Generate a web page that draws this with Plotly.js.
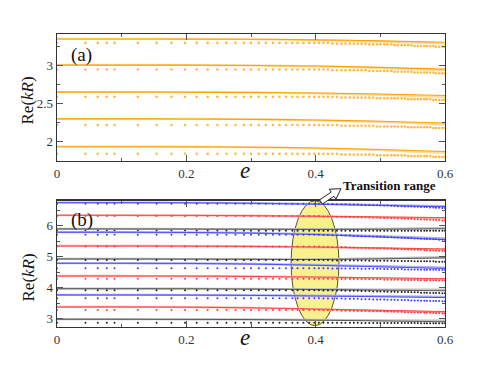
<!DOCTYPE html>
<html><head><meta charset="utf-8">
<script src="https://cdn.plot.ly/plotly-3.0.1.min.js"></script>
<style>html,body{margin:0;padding:0;background:#fff}#chart{width:491px;height:384px}</style>
</head><body><div id="chart"></div>
<script>
// ---------- data ----------
const lineE = [0, 0.1, 0.2, 0.3, 0.4, 0.5, 0.6];
const dotE = [0,0.044,0.063,0.077,0.089,0.125,0.154,0.177,0.198,0.216,0.233,0.248,0.262,0.276,0.289,
  0.300,0.312,0.323,0.334,0.344,0.354,0.364,0.372,0.381,0.390,0.398,0.405,
  0.412,0.419,0.426,0.433,0.440,0.446,0.453,0.459,0.465,0.471,0.477,0.483,0.489,0.495,0.500,
  0.506,0.511,0.517,0.522,0.527,0.533,0.538,0.543,0.548,0.553,0.558,0.563,0.568,0.572,0.577,
  0.582,0.586,0.591,0.596,0.600];

// panel (a): orange lines (dark / light) and dotted rows
const aLine1 = [3.351,3.351,3.350,3.347,3.340,3.327,3.308];
const aLine1b = [3.353,3.353,3.352,3.348,3.337,3.316,3.290];
const aLine2 = [3.008,3.008,3.007,3.003,2.995,2.978,2.955];
const aLine2b = [3.010,3.010,3.009,3.004,2.992,2.969,2.938];
const aLine3 = [2.652,2.652,2.651,2.647,2.640,2.627,2.607];
const aLine3b = [2.654,2.654,2.653,2.648,2.636,2.616,2.590];
const aLine4 = [2.300,2.300,2.299,2.294,2.285,2.268,2.245];
const aLine4b = [2.302,2.302,2.301,2.295,2.282,2.259,2.228];
const aLine5 = [1.934,1.934,1.932,1.927,1.917,1.897,1.870];
const aLine5b = [1.936,1.936,1.934,1.928,1.913,1.888,1.853];

const aDots1 = [3.3,3.3,3.3,3.3,3.3,3.3,3.3,3.3,3.3, 3.3,3.3,3.3,3.3,3.3,3.3,3.3,3.3,3.3, 3.3,3.3,3.3,3.3,3.3,3.3,3.3,3.3,3.3,
  3.3,3.3, 3.29,3.29,3.29,3.29,3.29,3.29,3.29,3.29,3.29, 3.28,3.28,3.28,3.28,3.28,3.28,3.28,
  3.27,3.27,3.27,3.27,3.27,3.27, 3.26,3.26,3.26,3.26,3.26,3.26,3.26, 3.25,3.25,3.25,3.25];
const aDots2 = [2.95,2.95,2.95,2.95,2.95,2.95,2.95,2.95,2.95, 2.95,2.95,2.95,2.95,2.95,2.95,2.95,2.95,2.95, 2.95,2.95,2.95,2.95,2.95,2.95,2.95,2.95,2.95,
  2.95,2.95, 2.94,2.94,2.94,2.94,2.94,2.94,2.94,2.94,2.94, 2.93,2.93,2.93,2.93,2.93,2.93,2.93,
  2.92,2.92,2.92,2.92,2.92,2.92, 2.91,2.91,2.91,2.91,2.91,2.91,2.91, 2.90,2.90,2.90,2.90];
const aDots3 = [2.59,2.59,2.59,2.59,2.59,2.59,2.59,2.59,2.59, 2.59,2.59,2.59,2.59,2.59,2.59,2.59,2.59,2.59, 2.59,2.59,2.59,2.59,2.59,2.59,2.59,2.59,2.59,
  2.59,2.59,2.59,2.59, 2.58,2.58,2.58,2.58,2.58,2.58,2.58,2.58,2.58, 2.57,2.57,2.57,2.57,2.57,2.57,2.57,2.57,2.57,
  2.56,2.56,2.56,2.56,2.56,2.56,2.56,2.56, 2.55,2.55,2.55,2.55,2.55];
const aDots4 = [2.22,2.22,2.22,2.22,2.22,2.22,2.22,2.22,2.22, 2.22,2.22,2.22,2.22,2.22,2.22,2.22,2.22,2.22, 2.22,2.22,2.22,2.22,2.22,2.22,2.22,2.22,2.22,
  2.22,2.22,2.22,2.22, 2.21,2.21,2.21,2.21,2.21,2.21,2.21,2.21,2.21, 2.20,2.20,2.20,2.20,2.20,2.20,2.20,2.20,2.20,
  2.19,2.19,2.19,2.19,2.19,2.19,2.19,2.19, 2.18,2.18,2.18,2.18,2.18];
const aDots5 = [1.84,1.84,1.84,1.84,1.84,1.84,1.84,1.84,1.84, 1.84,1.84,1.84,1.84,1.84,1.84,1.84,1.84,1.84, 1.84,1.84,1.84,1.84,1.84,1.84,1.84,1.84,1.84,
  1.84,1.84,1.84,1.84, 1.83,1.83,1.83,1.83,1.83,1.83,1.83,1.83,1.83, 1.82,1.82,1.82,1.82,1.82,1.82,1.82,1.82,1.82,
  1.81,1.81,1.81,1.81,1.81,1.81,1.81,1.81, 1.80,1.80,1.80,1.80,1.80];

// panel (b): blue / red / black families
const bBlue1 = [6.742,6.742,6.737,6.722,6.692,6.652,6.610];
const bBlue1b = [6.744,6.744,6.740,6.726,6.700,6.667,6.632];
const bRed1 = [6.335,6.335,6.331,6.322,6.303,6.282,6.260];
const bRed1b = [6.337,6.337,6.333,6.322,6.298,6.270,6.238];
const bBlack1 = [5.894,5.894,5.891,5.886,5.880,5.886,5.900];
const bBlack1b = [5.896,5.896,5.893,5.889,5.887,5.900,5.925];
const bBlue2 = [5.787,5.787,5.780,5.760,5.712,5.632,5.550];
const bBlue2b = [5.789,5.789,5.783,5.766,5.725,5.660,5.590];
const bRed2 = [5.345,5.345,5.341,5.331,5.310,5.281,5.250];
const bRed2b = [5.347,5.347,5.343,5.331,5.304,5.267,5.225];
const bBlack2 = [4.926,4.926,4.922,4.916,4.910,4.930,4.960];
const bBlack2b = [4.928,4.928,4.925,4.920,4.918,4.945,4.985];
const bBlue3 = [4.787,4.787,4.781,4.762,4.722,4.672,4.620];
const bBlue3b = [4.789,4.789,4.784,4.768,4.735,4.693,4.650];
const bRed3 = [4.377,4.377,4.373,4.362,4.343,4.318,4.290];
const bRed3b = [4.379,4.379,4.375,4.362,4.337,4.304,4.266];
const bBlack3 = [3.968,3.968,3.965,3.956,3.940,3.920,3.900];
const bBlack3b = [3.970,3.970,3.968,3.962,3.952,3.942,3.935];
const bBlue4 = [3.765,3.765,3.761,3.751,3.732,3.708,3.680];
const bBlue4b = [3.767,3.767,3.764,3.756,3.742,3.725,3.705];
const bRed4 = [3.377,3.377,3.370,3.350,3.312,3.271,3.230];
const bRed4b = [3.379,3.379,3.372,3.350,3.305,3.255,3.205];
const bBlack4 = [2.981,2.981,2.978,2.970,2.952,2.928,2.900];
const bBlack4b = [2.983,2.983,2.981,2.976,2.965,2.950,2.935];

const bBlue1Dots = [6.71,6.71,6.71,6.71,6.71,6.71,6.71,6.71,6.71, 6.71,6.71,6.71,6.71,6.71,6.71,6.71,6.71,6.71, 6.71,6.71,6.71,6.71,6.71,6.71,6.71,6.71,6.71,
  6.70,6.70,6.70,6.69,6.69,6.69,6.68,6.68,6.68,6.67,6.67,6.67,6.66,6.66,6.65,6.65,6.65,6.64,6.64,6.63,6.63,6.62,6.62,6.62,6.61,6.61,6.60,6.60,6.60,6.59,6.59,6.58,6.58,6.57,6.57];
const bRed1Dots = [6.31,6.31,6.31,6.31,6.31,6.31,6.31,6.31,6.31, 6.31,6.31,6.31,6.31,6.31,6.31,6.31,6.31,6.31, 6.31,6.31,6.31,6.31,6.31,6.31,6.31,6.31,6.31,
  6.30,6.30,6.30,6.29,6.29,6.29,6.28,6.28,6.28,6.27,6.27,6.27,6.26,6.26,6.25,6.25,6.25,6.24,6.24,6.23,6.23,6.22,6.22,6.22,6.21,6.21,6.20,6.20,6.20,6.19,6.19,6.18,6.18,6.17,6.17];
const bBlack1Dots = [5.84,5.84,5.84,5.84,5.84,5.84,5.84,5.84,5.84, 5.84,5.84,5.84,5.84,5.84,5.84,5.84,5.84,5.84, 5.84,5.84,5.84,5.84,5.84,5.84,5.84,5.84,5.84,
  5.84,5.84,5.84,5.84,5.84,5.84,5.84,5.84,5.84,5.84,5.84,5.84,5.84,5.84,5.84,5.84,5.84,5.84,5.84,5.84,5.84,5.84,5.84,5.84,5.84,5.84,5.84,5.84,5.84,5.84,5.84,5.84,5.84,5.84,5.84];
const bBlue2Dots = [5.71,5.71,5.71,5.71,5.71,5.71,5.71,5.71,5.71, 5.71,5.71,5.71,5.71,5.71,5.71,5.71,5.71,5.71, 5.71,5.71,5.71,5.71,5.71,5.71,5.71,5.71,5.71,
  5.70,5.70,5.69,5.69,5.69,5.68,5.68,5.67,5.67,5.66,5.66,5.66,5.65,5.65,5.64,5.64,5.63,5.63,5.62,5.62,5.61,5.61,5.60,5.60,5.59,5.59,5.58,5.58,5.57,5.57,5.56,5.56,5.55,5.55,5.54];
const bRed2Dots = [5.33,5.33,5.33,5.33,5.33,5.33,5.33,5.33,5.33, 5.33,5.33,5.33,5.33,5.33,5.33,5.33,5.33,5.33, 5.33,5.33,5.33,5.33,5.33,5.33,5.33,5.33,5.33,
  5.32,5.32,5.31,5.31,5.31,5.31,5.30,5.30,5.29,5.29,5.29,5.28,5.28,5.27,5.27,5.27,5.26,5.26,5.25,5.25,5.24,5.24,5.23,5.23,5.22,5.22,5.22,5.21,5.21,5.20,5.20,5.19,5.19,5.18,5.18];
const bBlack2Dots = [4.89,4.89,4.89,4.89,4.89,4.89,4.89,4.89,4.89, 4.89,4.89,4.89,4.89,4.89,4.89,4.89,4.89,4.89, 4.89,4.89,4.89,4.89,4.89,4.89,4.89,4.89,4.89,
  4.89,4.89, 4.88,4.88,4.88,4.88,4.88,4.88,4.88,4.88,4.88, 4.87,4.87,4.87,4.87,4.87,4.87,4.87,
  4.86,4.86,4.86,4.86,4.86,4.86, 4.85,4.85,4.85,4.85,4.85,4.85,4.85, 4.84,4.84,4.84,4.84];
const bBlue3Dots = [4.63,4.63,4.63,4.63,4.63,4.63,4.63,4.63,4.63, 4.63,4.63,4.63,4.63,4.63,4.63,4.63,4.63,4.63, 4.63,4.63,4.63,4.63,4.63,4.63,4.63,4.63,4.63,
  4.63,4.63, 4.62,4.62,4.62,4.62,4.62,4.62,4.62, 4.61,4.61,4.61,4.61,4.61,4.61, 4.60,4.60,4.60,4.60,4.60,4.60,
  4.59,4.59,4.59,4.59,4.59, 4.58,4.58,4.58,4.58,4.58,4.58, 4.57,4.57,4.57];
const bRed3Dots = [4.29,4.29,4.29,4.29,4.29,4.29,4.29,4.29,4.29, 4.29,4.29,4.29,4.29,4.29,4.29,4.29,4.29,4.29, 4.29,4.29,4.29,4.29,4.29,4.29,4.29,4.29,4.29,
  4.29,4.29, 4.28,4.28,4.28,4.28,4.28,4.28,4.28, 4.27,4.27,4.27,4.27,4.27,4.27, 4.26,4.26,4.26,4.26,4.26,4.26,
  4.25,4.25,4.25,4.25,4.25, 4.24,4.24,4.24,4.24,4.24,4.24, 4.23,4.23,4.23];
const bBlack3Dots = [3.92,3.92,3.92,3.92,3.92,3.92,3.92,3.92,3.92, 3.92,3.92,3.92,3.92,3.92,3.92,3.92,3.92,3.92, 3.92,3.92,3.92,3.92,3.92,3.92,3.92,3.92,3.92,
  3.91,3.91,3.91,3.91,3.91, 3.90,3.90,3.90,3.90, 3.89,3.89,3.89, 3.88,3.88,3.88,3.88, 3.87,3.87,3.87,
  3.86,3.86,3.86,3.86, 3.85,3.85,3.85, 3.84,3.84,3.84, 3.83,3.83,3.83,3.83, 3.82,3.82];
const bBlue4Dots = [3.66,3.66,3.66,3.66,3.66,3.66,3.66,3.66,3.66, 3.66,3.66,3.66,3.66,3.66,3.66,3.66,3.66,3.66, 3.66,3.66,3.66,3.66,3.66,3.66,3.66,3.66,3.66,
  3.65,3.65,3.65,3.65,3.65, 3.64,3.64,3.64,3.64, 3.63,3.63,3.63, 3.62,3.62,3.62,3.62, 3.61,3.61,3.61,
  3.60,3.60,3.60,3.60, 3.59,3.59,3.59, 3.58,3.58,3.58, 3.57,3.57,3.57,3.57, 3.56,3.56];
const bRed4Dots = [3.28,3.28,3.28,3.28,3.28,3.28,3.28,3.28,3.28, 3.28,3.28,3.28,3.28,3.28,3.28,3.28,3.28,3.28, 3.28,3.28,3.28,3.28,3.28,3.28,3.28,3.28,3.28,
  3.27,3.27,3.27,3.27, 3.26,3.26,3.26,3.26, 3.25,3.25,3.25, 3.24,3.24,3.24,3.24, 3.23,3.23,3.23,
  3.22,3.22,3.22, 3.21,3.21,3.21, 3.20,3.20,3.20, 3.19,3.19,3.19, 3.18,3.18,3.18, 3.17,3.17];
const bBlack4Dots = [2.87,2.87,2.87,2.87,2.87,2.87,2.87,2.87,2.87, 2.87,2.87,2.87,2.87,2.87,2.87,2.87,2.87,2.87, 2.87,2.87,2.87,2.87,2.87,2.87,2.87,2.87,2.87,
  2.87,2.87,2.87,2.87,2.87,2.87,2.87,2.87,2.87,
  2.86,2.86,2.86,2.86,2.86,2.86,2.86,2.86,2.86,2.86,2.86,2.86,2.86,2.86,2.86,2.86,2.86,
  2.85,2.85,2.85,2.85,2.85,2.85,2.85,2.85,2.85];

// transition range ellipse (in e and Re(kR) of panel b)
const ellipseE = [0.362, 0.436];
const ellipseY = [2.774, 6.806];

// ---------- build ----------
const SERIF = 'Liberation Serif';
const COL = {
  orange: {dark:'#ffa200', light:'#ffdc9a', dot:'#ffb84a'},
  blue:   {dark:'#4040ff', light:'#b0b0ff', dot:'#3a3aff'},
  red:    {dark:'#ff3a3a', light:'#ffb0b0', dot:'#ff3a3a'},
  black:  {dark:'#4a4a4a', light:'#c0c0c0', dot:'#222222'}
};
const rowsA = [
  [aLine1, aLine1b, aDots1], [aLine2, aLine2b, aDots2], [aLine3, aLine3b, aDots3],
  [aLine4, aLine4b, aDots4], [aLine5, aLine5b, aDots5]
];
const rowsB = [
  [bBlue1, bBlue1b, bBlue1Dots, 'blue'], [bRed1, bRed1b, bRed1Dots, 'red'], [bBlack1, bBlack1b, bBlack1Dots, 'black'],
  [bBlue2, bBlue2b, bBlue2Dots, 'blue'], [bRed2, bRed2b, bRed2Dots, 'red'], [bBlack2, bBlack2b, bBlack2Dots, 'black'],
  [bBlue3, bBlue3b, bBlue3Dots, 'blue'], [bRed3, bRed3b, bRed3Dots, 'red'], [bBlack3, bBlack3b, bBlack3Dots, 'black'],
  [bBlue4, bBlue4b, bBlue4Dots, 'blue'], [bRed4, bRed4b, bRed4Dots, 'red'], [bBlack4, bBlack4b, bBlack4Dots, 'black']
];
const traces = [];
function addRow(xa, ya, ln, lnb, dots, c, dotSize, darkW, lightW) {
  if (dots.length !== dotE.length) throw new Error('dot length mismatch ' + dots.length);
  traces.push({x: lineE, y: lnb, xaxis: xa, yaxis: ya, mode: 'lines', hoverinfo: 'skip',
    line: {color: c.light, width: lightW, shape: 'spline', smoothing: 0.8}});
  traces.push({x: lineE, y: ln, xaxis: xa, yaxis: ya, mode: 'lines', hoverinfo: 'skip',
    line: {color: c.dark, width: darkW, shape: 'spline', smoothing: 0.8}});
  traces.push({x: dotE, y: dots, xaxis: xa, yaxis: ya, mode: 'markers', hoverinfo: 'skip',
    marker: {color: c.dot, size: dotSize, symbol: 'circle', line: {width: 0}}});
}
rowsA.forEach(r => addRow('x', 'y', r[0], r[1], r[2], COL.orange, 2.6, 1.1, 2.2));
rowsB.forEach(r => addRow('x2', 'y2', r[0], r[1], r[2], COL[r[3]], 2, 0.9, 2.2));

function ax(extra) {
  return Object.assign({
    showline: true, linecolor: '#333', linewidth: 1.3, mirror: 'ticks',
    ticks: 'inside', ticklen: 6, tickwidth: 1.3, tickcolor: '#555',
    showgrid: false, zeroline: false, fixedrange: true,
    tickfont: {family: SERIF, size: 13, color: '#333'}
  }, extra);
}
const minorX = {ticks: 'inside', ticklen: 3, tickwidth: 1, tickcolor: '#555', dtick: 0.1, tick0: 0, showgrid: false};

// paper coordinates helpers (plot area: x 57..445 px, y 34..327 px)
const PX = p => (p - 57) / 388;
const PY = p => (327 - p) / 293;
const arrowPts = [[322.4,204.1],[334.0,196.3],[335.9,199.2],[341,188.7],[329.3,189.2],[331.2,192.1],[319.6,199.9]];
const arrowPath = 'M' + arrowPts.map(p => PX(p[0]).toFixed(4) + ',' + PY(p[1]).toFixed(4)).join(' L') + ' Z';

const layout = {
  width: 491, height: 384, showlegend: false,
  margin: {l: 57, r: 46, t: 34, b: 57},
  paper_bgcolor: '#fff', plot_bgcolor: '#fff',
  font: {family: SERIF, color: '#222'},
  xaxis: ax({domain: [0, 1], anchor: 'y', range: [0, 0.6], dtick: 0.2, tick0: 0, minor: minorX}),
  yaxis: ax({domain: [0.5666, 1], anchor: 'x', range: [1.746, 3.417], dtick: 0.5, tick0: 0,
    minor: {ticks: 'inside', ticklen: 3, tickwidth: 1, tickcolor: '#555', dtick: 0.25, tick0: 0, showgrid: false}}),
  xaxis2: ax({domain: [0, 1], anchor: 'y2', range: [0, 0.6], dtick: 0.2, tick0: 0, minor: minorX}),
  yaxis2: ax({domain: [0, 0.4311], anchor: 'x2', range: [2.732, 6.806], dtick: 1, tick0: 0,
    minor: {ticks: 'inside', ticklen: 3, tickwidth: 1, tickcolor: '#555', dtick: 0.5, tick0: 0, showgrid: false}}),
  shapes: [
    {type: 'circle', xref: 'x2', yref: 'y2', x0: ellipseE[0], x1: ellipseE[1], y0: ellipseY[0], y1: ellipseY[1],
     fillcolor: '#f9f28c', line: {color: '#55552f', width: 1}, layer: 'below'},
    {type: 'path', xref: 'paper', yref: 'paper', path: arrowPath, fillcolor: '#ffffff',
     line: {color: '#222', width: 1}, layer: 'above'}
  ],
  annotations: [
    {text: '(a)', xref: 'paper', yref: 'paper', x: PX(81.5), y: PY(55.5), showarrow: false,
     xanchor: 'center', yanchor: 'middle', font: {family: SERIF, size: 19, color: '#111'}},
    {text: '(b)', xref: 'paper', yref: 'paper', x: PX(81.7), y: PY(220), showarrow: false,
     xanchor: 'center', yanchor: 'middle', font: {family: SERIF, size: 19, color: '#111'}},
    {text: '<b>Transition range</b>', xref: 'paper', yref: 'paper', x: PX(389.5), y: PY(185), showarrow: false,
     xanchor: 'center', yanchor: 'middle', font: {family: SERIF, size: 13, color: '#111'}},
    {text: '<i>e</i>', xref: 'paper', yref: 'paper', x: PX(245), y: PY(170.5), showarrow: false,
     xanchor: 'center', yanchor: 'middle', font: {family: SERIF, size: 23, color: '#111'}},
    {text: '<i>e</i>', xref: 'paper', yref: 'paper', x: PX(245), y: PY(338), showarrow: false,
     xanchor: 'center', yanchor: 'middle', font: {family: SERIF, size: 23, color: '#111'}},
    {text: 'Re(<i>kR</i>)', xref: 'paper', yref: 'paper', x: PX(27.5), y: PY(101), showarrow: false,
     textangle: -90, xanchor: 'center', yanchor: 'middle', font: {family: SERIF, size: 17, color: '#111'}},
    {text: 'Re(<i>kR</i>)', xref: 'paper', yref: 'paper', x: PX(27.5), y: PY(278), showarrow: false,
     textangle: -90, xanchor: 'center', yanchor: 'middle', font: {family: SERIF, size: 17, color: '#111'}}
  ]
};
Plotly.newPlot('chart', traces, layout, {displayModeBar: false, staticPlot: true});
</script></body></html>
